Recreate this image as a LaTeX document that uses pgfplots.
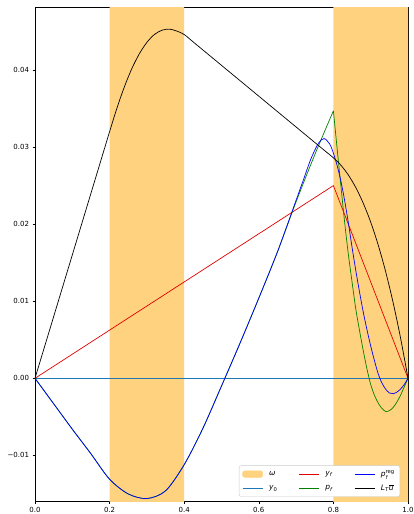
\documentclass[border=0pt]{standalone}
\usepackage{fontspec}
\setmainfont{DejaVu Sans}
\usepackage{amsmath}
\usepackage{pgfplots}
\pgfplotsset{compat=1.18}
\usetikzlibrary{calc}
\definecolor{omegac}{RGB}{255,210,127}
\definecolor{tabblue}{RGB}{31,119,180}
\definecolor{mgreen}{RGB}{0,128,0}
\definecolor{mred}{RGB}{225,0,0}
\begin{document}
\begin{tikzpicture}
\begin{axis}[
 scale only axis, width=373pt, height=494.4pt,
 xmin=0, xmax=1, ymin=-0.01601, ymax=0.04813,
 scaled x ticks=false, scaled y ticks=false,
 axis line style={line width=0.56pt},
 tick align=outside, xtick pos=bottom, ytick pos=left,
 major tick length=2.5pt, tick style={line width=0.56pt, black},
 xtick={0,0.2,0.4,0.6,0.8,1}, xticklabels={0.0,0.2,0.4,0.6,0.8,1.0},
 ytick={-0.01,0,0.01,0.02,0.03,0.04}, yticklabels={−0.01,0.00,0.01,0.02,0.03,0.04},
 tick label style={font=\fontsize{7}{8}\selectfont},
 legend columns=3,
 legend image code/.code={\draw[#1] (0pt,0pt) -- (20pt,0pt);},
 legend style={at={(1,0)}, anchor=south east, xshift=-8pt, yshift=5pt, draw=black!20, rounded corners=2pt,
   font=\fontsize{7.5}{9}\selectfont, inner xsep=3pt, inner ysep=2.5pt, row sep=2.5pt,
   /tikz/every odd column/.append style={column sep=4pt},
   /tikz/every even column/.append style={column sep=19pt}},
 legend cell align=left,
]
% omega bands
\addplot[fill=omegac, draw=none, forget plot] coordinates {(0.2,-0.0161) (0.4,-0.0161) (0.4,0.0482) (0.2,0.0482) (0.2,-0.0161)};
\addplot[fill=omegac, draw=none, forget plot] coordinates {(0.8,-0.0161) (1.0,-0.0161) (1.0,0.0482) (0.8,0.0482) (0.8,-0.0161)};
% y_0
\addplot[tabblue, line width=1.05pt, forget plot] coordinates {(0,0) (1,0)};
% y_f
\addplot[mred, line width=0.7pt, forget plot] coordinates {(0,0) (0.8,0.025) (1,0)};
% p_f (green), two smooth pieces
\addplot[mgreen, line width=0.7pt, smooth, forget plot] coordinates {
 (0,0) (0.05,-0.0033) (0.1,-0.0066) (0.15,-0.0098) (0.2,-0.0131) (0.25,-0.0150) (0.3,-0.0156)
 (0.35,-0.0146) (0.4,-0.0112) (0.45,-0.0065) (0.5,-0.0010) (0.55,0.0046) (0.6,0.0104)
 (0.65,0.0164) (0.7,0.0229) (0.75,0.0290) (0.8,0.0347)};
\addplot[mgreen, line width=0.7pt, smooth, forget plot] coordinates {
 (0.8,0.0347) (0.81,0.0298) (0.82,0.0250) (0.83,0.0203) (0.84,0.0161) (0.85,0.0125) (0.86,0.0090)
 (0.87,0.0062) (0.88,0.0036) (0.89,0.0012) (0.90,-0.0008) (0.91,-0.0022) (0.92,-0.0032)
 (0.93,-0.0039) (0.94,-0.0043) (0.95,-0.0042) (0.96,-0.0038) (0.97,-0.0031) (0.98,-0.0022)
 (0.99,-0.0011) (1.0,0)};
% p_f^reg (blue)
\addplot[blue, line width=0.7pt, smooth, forget plot] coordinates {
 (0,0) (0.05,-0.0033) (0.1,-0.0066) (0.15,-0.0098) (0.2,-0.0131) (0.25,-0.0150) (0.3,-0.0156)
 (0.35,-0.0146) (0.4,-0.0112) (0.45,-0.0065) (0.5,-0.0010) (0.55,0.0046) (0.6,0.0104)
 (0.65,0.0164) (0.7,0.0231) (0.72,0.0258) (0.74,0.0285) (0.76,0.0305) (0.775,0.0311)
 (0.79,0.0304) (0.80,0.0292) (0.81,0.0276) (0.82,0.0256) (0.83,0.0231) (0.84,0.0202)
 (0.85,0.0170) (0.86,0.0140) (0.87,0.0112) (0.88,0.0086) (0.89,0.0063) (0.90,0.0042)
 (0.91,0.0023) (0.92,0.0006) (0.93,-0.0006) (0.94,-0.0014) (0.95,-0.0019) (0.96,-0.0020)
 (0.97,-0.0018) (0.98,-0.0014) (0.99,-0.0008) (1.0,0)};
% L_T u (black)
\addplot[black, line width=0.7pt, smooth, forget plot] coordinates {
 (0,0) (0.04,0.0064) (0.08,0.0128) (0.12,0.0192) (0.16,0.0256) (0.18,0.0288)
 (0.2,0.0320) (0.22,0.0351) (0.24,0.03786) (0.26,0.04022) (0.28,0.04212)
 (0.30,0.04358) (0.32,0.0446) (0.34,0.04515) (0.36,0.0453) (0.38,0.04505) (0.40,0.0446)
 (0.42,0.0438) (0.44,0.0430) (0.48,0.0414) (0.52,0.0398) (0.56,0.0382) (0.60,0.0366)
 (0.64,0.0350) (0.68,0.0334) (0.72,0.0318) (0.76,0.0302) (0.78,0.0294)
 (0.80,0.0286) (0.82,0.02765) (0.84,0.02638) (0.86,0.02475) (0.88,0.02272)
 (0.90,0.02026) (0.92,0.01731) (0.94,0.01385) (0.96,0.00984) (0.98,0.00524) (1.0,0)};
% legend (column-major order of the original)
\addlegendimage{legend image code/.code={\fill[omegac] (0pt,-3.2pt) rectangle (20pt,3.2pt);}}
\addlegendentry{\textit{ω}}
\addlegendimage{draw=mred, line width=0.8pt}
\addlegendentry{\textit{y}\textsubscript{\textit{f}}}
\addlegendimage{draw=blue, line width=0.8pt}
\addlegendentry{\textit{p}$^{\text{reg}}_{\textit{f}}$}
\addlegendimage{draw=tabblue, line width=1.05pt}
\addlegendentry{\textit{y}\textsubscript{0}}
\addlegendimage{draw=mgreen, line width=0.8pt}
\addlegendentry{\textit{p}\textsubscript{\textit{f}}}
\addlegendimage{draw=black, line width=0.8pt}
\addlegendentry{\textit{L}$_{\textit{T}}\overline{\text{\textit{u}}}$}
\end{axis}
\pgfresetboundingbox
\path ($(current axis.south west)+(-35pt,-12.3pt)$) rectangle ($(current axis.north east)+(6pt,7.3pt)$);
\end{tikzpicture}
\end{document}
